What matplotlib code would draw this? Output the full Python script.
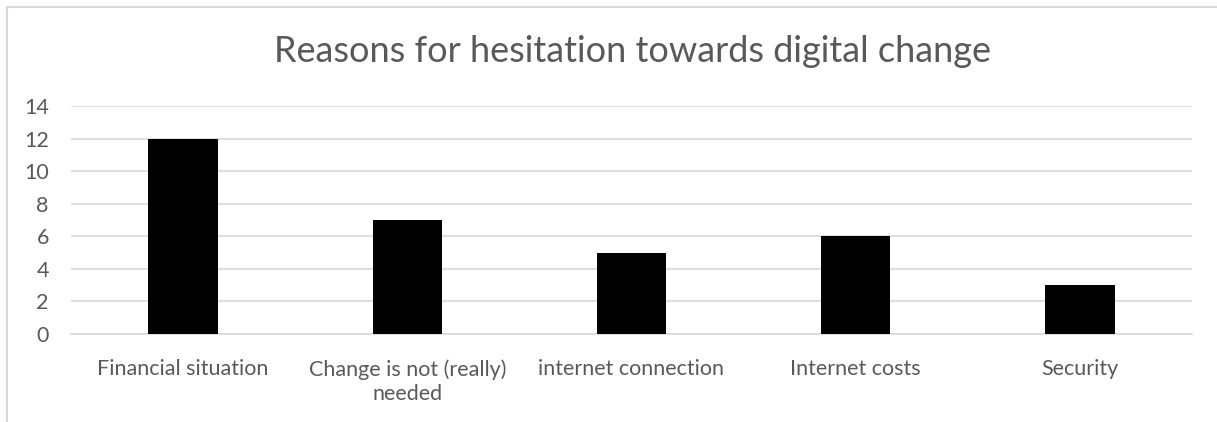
import matplotlib.pyplot as plt
from matplotlib.patches import Rectangle

# data
categories = ['Financial situation', 'Change is not (really)\nneeded', 'internet connection',
              'Internet costs', 'Security']
counts = [12, 7, 5, 6, 3]
yticks = [0, 2, 4, 6, 8, 10, 12, 14]

W, H = 1217, 422
fig = plt.figure(figsize=(W / 100, H / 100), dpi=100)
plt.rcParams['font.family'] = ['Lato', 'DejaVu Sans']

# outer chart border (clipped at right and bottom like the reference)
fig.patches.append(Rectangle((7 / W, -0.1), 1.2, 1 - 7 / H + 0.1, transform=fig.transFigure,
                             fill=False, edgecolor='#d9d9d9', linewidth=1.5))

ax = fig.add_axes([71 / W, 1 - 334 / H, (1192 - 71) / W, (334 - 106) / H])
x = range(len(categories))
ax.bar(x, counts, width=0.31, color='black', zorder=3)

ax.set_xlim(-0.5, len(categories) - 0.5)
ax.set_ylim(0, 14)
ax.set_yticks(yticks)
ax.grid(axis='y', color='#d9d9d9', linewidth=1.2, zorder=0)
ax.set_xticks(list(x))
ax.set_xticklabels(categories, fontsize=15.5, color='#595959', linespacing=1.3)
ax.tick_params(axis='y', labelsize=15.5, labelcolor='#595959', length=0, pad=16)
ax.tick_params(axis='x', length=0, pad=18)
for s in ['top', 'right', 'left']:
    ax.spines[s].set_visible(False)
ax.spines['bottom'].set_color('#d9d9d9')
ax.spines['bottom'].set_linewidth(1.2)

fig.text(632 / W, 1 - 51 / H, 'Reasons for hesitation towards digital change', ha='center', va='center',
         fontsize=26, color='#595959')

fig.savefig('out.png', dpi=100)
